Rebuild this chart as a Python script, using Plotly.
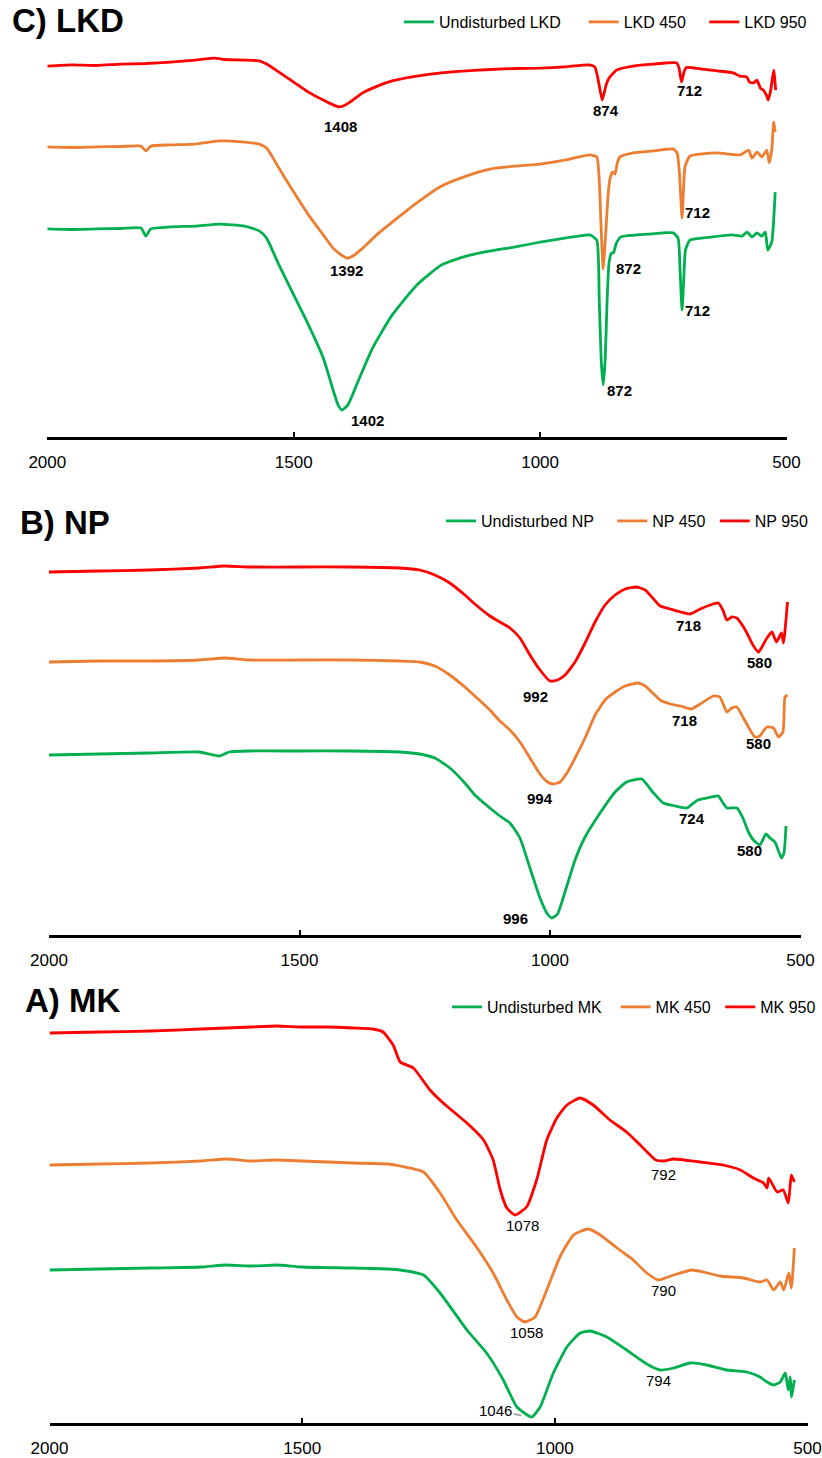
import plotly.graph_objects as go

# ---------------- Panel C) LKD ----------------
lkd_und_wn = [2000, 1950, 1900, 1850, 1810, 1800, 1790, 1750, 1700, 1650, 1600, 1570, 1555, 1530, 1500, 1470, 1440, 1420, 1410, 1402, 1390, 1370, 1340, 1300, 1250, 1200, 1150, 1100, 1050, 1000, 950, 899, 885, 880, 876, 872, 868, 864, 860, 855, 851, 846, 836, 780, 730, 720, 716, 712, 709, 705, 696, 650, 611, 590, 580, 570, 560, 550, 543, 538, 530, 523]
lkd_und_t = [51.9, 51.75, 51.9, 52.0, 52.1, 50.1, 51.9, 52.4, 52.6, 53.1, 52.6, 51.4, 49.6, 42.9, 35.4, 27.9, 19.6, 11.6, 7.9, 6.6, 7.9, 13.6, 22.1, 30.4, 37.9, 42.9, 45.1, 46.4, 47.4, 48.6, 49.6, 50.4, 49.1, 34.1, 19.1, 12.9, 19.1, 34.1, 43.6, 45.9, 45.9, 48.1, 49.9, 50.6, 50.9, 49.6, 41.6, 31.6, 37.9, 46.6, 49.1, 49.9, 50.4, 50.1, 51.1, 49.9, 50.9, 50.1, 51.1, 46.6, 48.6, 61.1]

lkd_450_wn = [2000, 1950, 1900, 1850, 1810, 1800, 1790, 1750, 1700, 1650, 1600, 1570, 1555, 1530, 1500, 1470, 1440, 1420, 1400, 1392, 1380, 1360, 1330, 1300, 1250, 1200, 1150, 1100, 1050, 1000, 950, 899, 885, 880, 876, 872, 867, 862, 858, 853, 848, 843, 838, 811, 770, 730, 722, 717, 712, 709, 706, 696, 642, 594, 577, 570, 560, 550, 540, 535, 530, 526, 523]
lkd_450_t = [72.4, 72.25, 72.4, 72.5, 72.6, 71.4, 72.6, 72.9, 73.1, 73.9, 73.6, 73.1, 72.1, 67.1, 61.1, 55.4, 50.4, 47.1, 45.1, 44.6, 45.1, 47.1, 50.6, 53.6, 58.4, 62.6, 65.1, 66.9, 67.6, 68.1, 69.1, 70.4, 69.9, 64.1, 51.6, 41.9, 50.4, 60.4, 64.6, 66.1, 65.6, 68.6, 69.9, 70.9, 71.4, 71.9, 70.9, 65.4, 54.6, 61.6, 67.4, 70.1, 70.9, 70.4, 71.6, 69.6, 71.1, 69.9, 71.6, 68.4, 71.6, 78.6, 76.1]

lkd_950_wn = [2000, 1950, 1900, 1850, 1800, 1750, 1700, 1660, 1640, 1600, 1570, 1555, 1530, 1500, 1470, 1440, 1420, 1408, 1395, 1380, 1360, 1330, 1300, 1250, 1200, 1150, 1100, 1050, 1000, 950, 900, 889, 882, 874, 866, 860, 845, 811, 770, 723, 718, 713, 708, 703, 675, 640, 608, 595, 581, 575, 567, 560, 553, 547, 541, 537, 532, 526, 522]
lkd_950_t = [92.6, 92.9, 92.75, 93.1, 93.25, 93.6, 94.1, 94.6, 94.25, 94.1, 93.9, 93.1, 91.1, 88.6, 86.1, 84.1, 82.9, 82.4, 82.9, 84.1, 85.9, 87.6, 88.9, 90.1, 90.9, 91.4, 91.75, 92.0, 92.1, 92.4, 92.9, 92.4, 89.1, 84.1, 87.9, 89.6, 91.6, 92.6, 93.1, 93.4, 92.1, 88.6, 91.1, 92.25, 91.9, 91.4, 90.9, 90.1, 89.9, 88.6, 88.4, 89.1, 87.1, 86.6, 85.4, 84.1, 86.6, 91.6, 86.6]

lkd_peak_wn = [1406, 866, 696, 1392, 820, 680, 680, 838, 1351]
lkd_peak_t = [77.6, 81.6, 86.4, 41.6, 41.9, 55.9, 31.4, 11.6, 4.1]
lkd_peak_text = ["1408", "874", "712", "1392", "872", "712", "712", "872", "1402"]

# ---------------- Panel B) NP ----------------
np_und_wn = [2000, 1900, 1800, 1700, 1660, 1640, 1600, 1500, 1400, 1300, 1260, 1230, 1200, 1170, 1150, 1120, 1100, 1080, 1060, 1040, 1020, 1005, 996, 985, 967, 950, 930, 900, 870, 847, 817, 795, 774, 750, 727, 705, 687, 664, 656, 647, 627, 615, 604, 594, 581, 569, 561, 551, 538, 533, 529]
np_und_t = [45.0, 45.25, 45.5, 45.75, 44.75, 45.75, 46.0, 46.0, 46.0, 45.75, 45.25, 44.25, 41.75, 38.0, 35.0, 31.75, 29.75, 28.0, 24.25, 16.75, 9.25, 5.25, 4.25, 5.25, 12.0, 18.75, 24.5, 30.5, 35.75, 38.25, 39.0, 35.75, 33.0, 32.25, 31.75, 33.75, 34.25, 34.75, 33.25, 31.75, 31.75, 29.25, 25.75, 23.75, 22.5, 25.25, 24.25, 23.25, 19.25, 20.5, 27.25]

np_450_wn = [2000, 1900, 1800, 1700, 1650, 1600, 1500, 1400, 1300, 1260, 1230, 1200, 1170, 1150, 1120, 1100, 1080, 1060, 1040, 1020, 1005, 993, 980, 965, 950, 930, 910, 890, 870, 850, 824, 810, 795, 780, 760, 740, 718, 700, 674, 661, 647, 637, 627, 615, 604, 591, 581, 574, 567, 554, 544, 535, 531, 526]
np_450_t = [68.25, 68.5, 68.5, 68.75, 69.25, 68.75, 68.75, 68.75, 68.5, 68.25, 67.25, 65.0, 62.0, 59.75, 56.25, 53.5, 51.25, 48.25, 44.25, 40.25, 38.25, 37.75, 38.25, 40.75, 44.25, 49.25, 55.0, 58.75, 60.75, 62.25, 63.0, 62.25, 60.5, 58.75, 57.75, 57.25, 56.5, 57.75, 59.75, 59.5, 55.75, 56.75, 57.0, 54.5, 52.0, 49.5, 49.75, 51.0, 52.0, 51.75, 49.5, 50.75, 59.5, 60.0]

np_950_wn = [2000, 1900, 1800, 1700, 1650, 1600, 1500, 1400, 1300, 1260, 1230, 1200, 1170, 1150, 1120, 1100, 1080, 1060, 1040, 1020, 1000, 985, 970, 950, 930, 910, 890, 870, 850, 827, 810, 795, 780, 760, 740, 720, 700, 680, 664, 655, 647, 637, 627, 615, 604, 595, 584, 578, 567, 557, 548, 538, 534, 526]
np_950_t = [90.75, 91.0, 91.25, 91.75, 92.25, 92.0, 92.0, 92.0, 91.75, 91.25, 90.0, 88.0, 85.0, 82.75, 79.75, 78.25, 76.75, 74.25, 70.0, 66.25, 63.5, 63.75, 65.0, 68.25, 73.0, 78.25, 82.5, 85.0, 86.5, 87.0, 86.25, 84.25, 82.25, 81.5, 80.75, 80.25, 81.5, 82.5, 83.0, 81.25, 78.75, 79.5, 79.25, 77.25, 74.75, 72.5, 70.75, 71.75, 74.25, 75.75, 73.25, 75.5, 73.0, 83.25]

np_peak_wn = [1028, 723, 581, 1019, 732, 584, 717, 602, 1068]
np_peak_t = [59.75, 77.5, 68.25, 34.25, 53.75, 47.9, 29.2, 21.1, 4.25]
np_peak_text = ["992", "718", "580", "994", "718", "580", "724", "580", "996"]

# ---------------- Panel A) MK ----------------
mk_und_wn = [2000, 1900, 1800, 1700, 1650, 1600, 1550, 1500, 1400, 1330, 1306, 1260, 1227, 1174, 1135, 1102, 1075, 1046, 1029, 1003, 976, 950, 930, 897, 858, 818, 792, 765, 732, 699, 660, 620, 594, 580, 567, 554, 544, 538, 534, 532, 526]
mk_und_t = [38.25, 38.5, 38.75, 39.0, 39.5, 39.25, 39.5, 39.0, 38.75, 38.5, 38.25, 37.0, 32.5, 23.25, 17.5, 10.75, 4.0, 1.5, 4.0, 12.5, 19.0, 22.5, 23.0, 21.5, 18.25, 14.75, 13.25, 13.75, 15.0, 14.5, 13.25, 12.75, 11.5, 10.25, 9.5, 10.25, 12.5, 8.25, 11.5, 6.5, 10.75]

mk_450_wn = [2000, 1900, 1800, 1700, 1650, 1600, 1550, 1500, 1400, 1330, 1306, 1260, 1227, 1194, 1155, 1122, 1095, 1075, 1059, 1039, 1016, 990, 963, 934, 910, 877, 845, 818, 795, 765, 729, 706, 673, 627, 594, 580, 567, 554, 547, 537, 532, 526]
mk_450_t = [64.5, 64.75, 65.0, 65.5, 66.0, 65.5, 65.75, 65.5, 65.0, 64.75, 64.25, 62.75, 57.5, 50.75, 44.0, 37.5, 30.75, 26.5, 25.25, 26.5, 33.25, 41.5, 47.0, 48.5, 47.0, 43.75, 40.75, 37.5, 35.75, 37.0, 38.25, 37.75, 36.75, 36.25, 35.25, 35.75, 33.25, 35.25, 33.25, 37.5, 33.75, 43.75]

mk_950_wn = [2000, 1900, 1800, 1700, 1650, 1600, 1550, 1500, 1450, 1400, 1360, 1340, 1320, 1306, 1280, 1247, 1221, 1174, 1141, 1122, 1108, 1095, 1079, 1056, 1036, 1016, 996, 976, 950, 924, 891, 858, 831, 800, 785, 765, 713, 667, 633, 607, 587, 580, 577, 560, 548, 538, 532, 526]
mk_950_t = [97.5, 97.75, 98.0, 98.5, 98.75, 99.0, 99.25, 99.0, 99.0, 98.75, 98.5, 97.75, 94.5, 90.25, 88.75, 83.25, 80.0, 75.0, 70.75, 65.75, 58.25, 53.75, 52.0, 54.0, 60.75, 70.75, 76.25, 79.5, 81.25, 79.5, 75.75, 72.75, 69.5, 65.75, 65.5, 66.0, 65.25, 64.5, 63.25, 61.25, 60.0, 58.75, 61.25, 57.75, 58.25, 55.0, 62.0, 60.25]

mk_peak_wn = [1063.5, 785, 1057, 785, 795]
mk_peak_t = [49.3, 62.2, 22.6, 33.1, 10.75]
mk_peak_text = ["1078", "792", "1058", "790", "794"]
# 1046 label has a short grey leader line to the minimum
mk_leader_wn = 1066
mk_leader_t = 1.9
mk_leader_text = "1046"

tick_vals = [2000, 1500, 1000, 500]
tick_text = ["2000", "1500", "1000", "500"]

GREEN = "#00B050"
ORANGE = "#ED7D31"
RED = "#FF0000"
FONT = "Liberation Sans, Arial, sans-serif"
NB = "\u00a0"

W, H = 822, 1458

panels = [
    dict(ax="x", ay="y", lg="legend", names=["Undisturbed LKD", "LKD 450", "LKD 950"],
         pad=[4, 3, 0],
         data=[(lkd_und_wn, lkd_und_t), (lkd_450_wn, lkd_450_t), (lkd_950_wn, lkd_950_t)],
         peaks=(lkd_peak_wn, lkd_peak_t, lkd_peak_text), bold=True,
         title="C) LKD", title_xy=(10, 20), legend_xy=(399, 22),
         x0=47.3, x1=786.5, base=436.5),
    dict(ax="x2", ay="y2", lg="legend2", names=["Undisturbed NP", "NP 450", "NP 950"],
         pad=[3, 1, 0],
         data=[(np_und_wn, np_und_t), (np_450_wn, np_450_t), (np_950_wn, np_950_t)],
         peaks=(np_peak_wn, np_peak_t, np_peak_text), bold=True,
         title="B) NP", title_xy=(18, 522), legend_xy=(441, 521),
         x0=49.0, x1=800.5, base=935.0),
    dict(ax="x3", ay="y3", lg="legend3", names=["Undisturbed MK", "MK 450", "MK 950"],
         pad=[2, 1, 0],
         data=[(mk_und_wn, mk_und_t), (mk_450_wn, mk_450_t), (mk_950_wn, mk_950_t)],
         peaks=(mk_peak_wn, mk_peak_t, mk_peak_text), bold=False,
         title="A) MK", title_xy=(23, 1000), legend_xy=(447, 1007),
         x0=49.5, x1=807.5, base=1423.0),
]

fig = go.Figure()
layout = dict(width=W, height=H, margin=dict(l=0, r=0, t=0, b=0, autoexpand=False),
              paper_bgcolor="white", plot_bgcolor="white", showlegend=True)
annotations = []
colors = [GREEN, ORANGE, RED]

for p in panels:
    for (wn, t), name, c, pad in zip(p["data"], p["names"], colors, p["pad"]):
        fig.add_trace(go.Scatter(x=wn, y=t, mode="lines", name=name + NB * pad,
                                 line=dict(color=c, width=2.8, shape="spline", smoothing=0.5),
                                 xaxis=p["ax"], yaxis=p["ay"], legend=p["lg"],
                                 hoverinfo="skip"))
    xkey = "xaxis" + p["ax"][1:]
    ykey = "yaxis" + p["ay"][1:]
    top = p["base"] - 420
    layout[xkey] = dict(domain=[p["x0"] / W, p["x1"] / W], range=[2000, 500],
                        anchor=p["ay"], showline=True, linecolor="black", linewidth=2.5,
                        ticks="inside", ticklen=5, tickwidth=2, tickcolor="black",
                        tickvals=tick_vals, ticktext=tick_text, showgrid=False,
                        zeroline=False, ticklabelstandoff=8, automargin=False,
                        tickfont=dict(family=FONT, size=17, color="black"))
    layout[ykey] = dict(domain=[1 - p["base"] / H, 1 - top / H], range=[0, 105],
                        anchor=p["ax"], visible=False, showgrid=False, zeroline=False)
    layout[p["lg"]] = dict(orientation="h", x=p["legend_xy"][0] / W, y=1 - p["legend_xy"][1] / H,
                           xanchor="left", yanchor="middle", bgcolor="rgba(0,0,0,0)",
                           font=dict(family=FONT, size=16, color="black"),
                           itemwidth=30, tracegroupgap=0)
    annotations.append(dict(text="<b>" + p["title"] + "</b>", xref="paper", yref="paper",
                            x=p["title_xy"][0] / W, y=1 - p["title_xy"][1] / H,
                            xanchor="left", yanchor="middle", showarrow=False,
                            font=dict(family=FONT, size=33, color="black")))
    pw, pt, ptxt = p["peaks"]
    for w_, t_, s_ in zip(pw, pt, ptxt):
        annotations.append(dict(text=("<b>" + s_ + "</b>") if p["bold"] else s_,
                                xref=p["ax"], yref=p["ay"], x=w_, y=t_,
                                showarrow=False, xanchor="center", yanchor="middle",
                                font=dict(family=FONT, size=15, color="black")))

annotations.append(dict(text=mk_leader_text, xref="x3", yref="y3", x=mk_leader_wn, y=mk_leader_t,
                        showarrow=True, arrowhead=0, arrowwidth=2, arrowcolor="#A6A6A6",
                        ax=-26, ay=-5, standoff=0, startstandoff=0,
                        font=dict(family=FONT, size=15, color="black")))

layout["annotations"] = annotations
fig.update_layout(**layout)
fig.write_html("out.html", config={"displayModeBar": False},
               post_script="document.body.style.margin='0';document.body.style.overflow='hidden';")
